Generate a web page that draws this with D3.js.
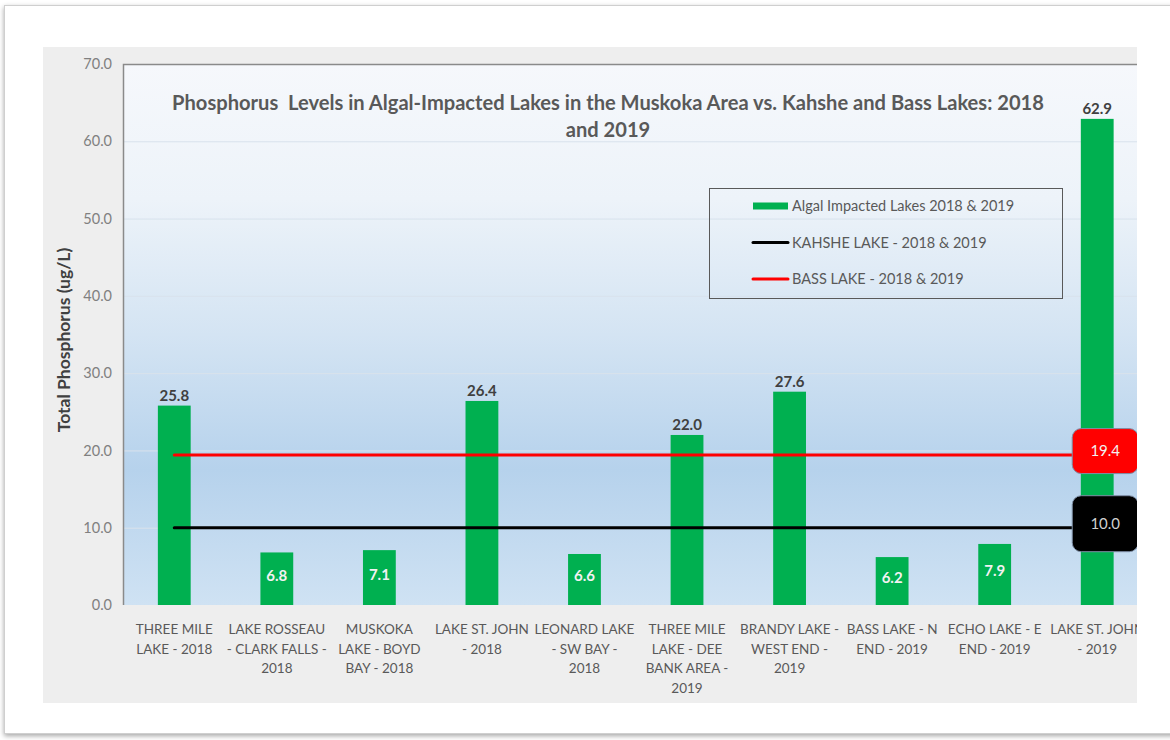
<!DOCTYPE html>
<html>
<head>
<meta charset="utf-8">
<script src="https://cdn.jsdelivr.net/npm/d3@7"></script>
<style>
  body { margin: 0; background: #ffffff; }
  svg { display: block; }
  text { font-family: Lato, "Open Sans", sans-serif; }
</style>
</head>
<body>
<div id="viz"></div>
<script>
// lakes and values
let lakes = ['THREE MILE LAKE - 2018', 'LAKE ROSSEAU - CLARK FALLS - 2018', 'MUSKOKA LAKE - BOYD BAY - 2018',
             'LAKE ST. JOHN - 2018', 'LEONARD LAKE - SW BAY - 2018', 'THREE MILE LAKE - DEE BANK AREA - 2019',
             'BRANDY LAKE - WEST END - 2019', 'BASS LAKE - N END - 2019', 'ECHO LAKE - E END - 2019',
             'LAKE ST. JOHN - 2019'];
let lakeLabels = [['THREE MILE', 'LAKE - 2018'], ['LAKE ROSSEAU', '- CLARK FALLS -', '2018'],
                  ['MUSKOKA', 'LAKE - BOYD', 'BAY - 2018'], ['LAKE ST. JOHN', '- 2018'],
                  ['LEONARD LAKE', '- SW BAY -', '2018'], ['THREE MILE', 'LAKE - DEE', 'BANK AREA -', '2019'],
                  ['BRANDY LAKE -', 'WEST END -', '2019'], ['BASS LAKE - N', 'END - 2019'],
                  ['ECHO LAKE - E', 'END - 2019'], ['LAKE ST. JOHN', '- 2019']];
let algal = [25.8, 6.8, 7.1, 26.4, 6.6, 22.0, 27.6, 6.2, 7.9, 62.9];
let kahshe = [10.0, 10.0, 10.0, 10.0, 10.0, 10.0, 10.0, 10.0, 10.0, 10.0];
let bass = [19.4, 19.4, 19.4, 19.4, 19.4, 19.4, 19.4, 19.4, 19.4, 19.4];
let yTicks = [0, 10, 20, 30, 40, 50, 60, 70];
let titleLines = ['Phosphorus  Levels in Algal-Impacted Lakes in the Muskoka Area vs. Kahshe and Bass Lakes: 2018', 'and 2019'];
let legendItems = ['Algal Impacted Lakes 2018 & 2019', 'KAHSHE LAKE - 2018 & 2019', 'BASS LAKE - 2018 & 2019'];

let W = 1170, H = 740,
    panel = { left: 43, top: 47, right: 1137, bottom: 703 },
    plot = { left: 123, top: 64, right: 1148.5, bottom: 605 };

let svg = d3.select('#viz').append('svg')
  .attr('width', W)
  .attr('height', H);

let defs = svg.append('defs');

let shadow = defs.append('filter').attr('id', 'shadow')
  .attr('x', '-5%').attr('y', '-5%').attr('width', '110%').attr('height', '110%');
shadow.append('feDropShadow')
  .attr('dx', 0).attr('dy', 2).attr('stdDeviation', 2.5)
  .attr('flood-color', '#000').attr('flood-opacity', 0.35);

let grad = defs.append('linearGradient').attr('id', 'bg')
  .attr('x1', 0).attr('y1', 0).attr('x2', 0).attr('y2', 1);
grad.append('stop').attr('offset', '0%').attr('stop-color', '#f6f8fc');
grad.append('stop').attr('offset', '25%').attr('stop-color', '#edf3f9');
grad.append('stop').attr('offset', '50%').attr('stop-color', '#d4e4f3');
grad.append('stop').attr('offset', '75%').attr('stop-color', '#b6d2ec');
grad.append('stop').attr('offset', '100%').attr('stop-color', '#cfe2f3');

defs.append('clipPath').attr('id', 'cut')
  .append('rect')
  .attr('x', 0).attr('y', 0)
  .attr('width', panel.right).attr('height', H);

// white card with a soft shadow
svg.append('rect')
  .attr('x', 4.5).attr('y', 5.5)
  .attr('width', W + 20).attr('height', 728)
  .attr('fill', '#fff')
  .attr('stroke', '#cfcfcf')
  .attr('filter', 'url(#shadow)');

let chart = svg.append('g').attr('clip-path', 'url(#cut)');

chart.append('rect')
  .attr('x', panel.left).attr('y', panel.top)
  .attr('width', panel.right - panel.left).attr('height', panel.bottom - panel.top)
  .attr('fill', '#eeeeee');

let xScale = d3.scaleBand()
  .domain(lakes)
  .range([plot.left, plot.right])
  .paddingInner(0.68)
  .paddingOuter(0.34);

let yScale = d3.scaleLinear()
  .domain([0, 70])
  .range([plot.bottom, plot.top]);

let mid = function(d) { return xScale(d) + xScale.bandwidth() / 2; };

chart.append('rect')
  .attr('x', plot.left).attr('y', plot.top)
  .attr('width', plot.right - plot.left).attr('height', plot.bottom - plot.top)
  .attr('fill', 'url(#bg)');

// gridlines
chart.append('g')
  .selectAll('line').data(yTicks.slice(1))
  .enter().append('line')
  .attr('x1', plot.left).attr('x2', plot.right)
  .attr('y1', function(d) { return yScale(d) + 0.5; })
  .attr('y2', function(d) { return yScale(d) + 0.5; })
  .attr('stroke', '#d9e2ec')
  .attr('stroke-width', 1);

// plot border, left and top
chart.append('path')
  .attr('d', 'M' + (plot.left + 0.5) + ',' + plot.bottom + 'V' + (plot.top + 0.5) + 'H' + plot.right)
  .attr('fill', 'none')
  .attr('stroke', '#8a8a8a')
  .attr('stroke-width', 1.5);

// y axis
let yAxis = d3.axisLeft(yScale)
  .tickValues(yTicks)
  .tickFormat(d3.format('.1f'))
  .tickSize(0)
  .tickPadding(11);

let yGuide = chart.append('g')
  .attr('transform', 'translate(' + plot.left + ',0)')
  .call(yAxis);
yGuide.select('.domain').remove();
yGuide.selectAll('text')
  .attr('fill', '#808080')
  .style('font-size', '14.5px');

chart.append('text')
  .attr('transform', 'translate(70,340) rotate(-90)')
  .attr('text-anchor', 'middle')
  .attr('fill', '#404040')
  .style('font-size', '17.5px')
  .style('font-weight', 'bold')
  .text('Total Phosphorus (ug/L)');

// bars
chart.append('g')
  .selectAll('rect').data(algal)
  .enter().append('rect')
  .attr('x', function(d, i) { return xScale(lakes[i]); })
  .attr('y', function(d) { return yScale(d); })
  .attr('width', xScale.bandwidth())
  .attr('height', function(d) { return plot.bottom - yScale(d); })
  .attr('fill', '#00b050');

// bar value labels: outside for tall bars, inside for short ones
chart.append('g')
  .selectAll('text').data(algal)
  .enter().append('text')
  .attr('x', function(d, i) { return mid(lakes[i]); })
  .attr('y', function(d) {
    return d > 15 ? yScale(d) - 5 : (yScale(d) + plot.bottom) / 2 + 2;
  })
  .attr('text-anchor', 'middle')
  .attr('fill', function(d) { return d > 15 ? '#404040' : '#f2f2f2'; })
  .style('font-size', '15px')
  .style('font-weight', 'bold')
  .text(function(d) { return d.toFixed(1); });

// reference lines
let line = d3.line()
  .x(function(d, i) { return mid(lakes[i]); })
  .y(function(d) { return yScale(d); });

chart.append('path').datum(bass)
  .attr('d', line)
  .attr('fill', 'none')
  .attr('stroke', '#ff0000')
  .attr('stroke-width', 3)
  .attr('stroke-linecap', 'round');

chart.append('path').datum(kahshe)
  .attr('d', line)
  .attr('fill', 'none')
  .attr('stroke', '#000000')
  .attr('stroke-width', 3)
  .attr('stroke-linecap', 'round');

// callout labels on the last point
let last = lakes.length - 1;
[{ v: bass[last], fill: '#ff0000', txt: '#f2f2f2', h: 45 },
 { v: kahshe[last], fill: '#000000', txt: '#d0d0d0', h: 56 }].forEach(function(c) {
  let cx = mid(lakes[last]) + 8, cy = yScale(c.v) - 4;
  chart.append('rect')
    .attr('x', cx - 33).attr('y', cy - c.h / 2)
    .attr('width', 66).attr('height', c.h)
    .attr('rx', 9)
    .attr('fill', c.fill)
    .attr('stroke', '#7f8fa6')
    .attr('stroke-width', 1);
  chart.append('text')
    .attr('x', cx).attr('y', cy + 5)
    .attr('text-anchor', 'middle')
    .attr('fill', c.txt)
    .style('font-size', '15px')
    .text(c.v.toFixed(1));
});

// category labels
chart.append('g')
  .selectAll('text').data(lakeLabels)
  .enter().append('text')
  .attr('text-anchor', 'middle')
  .attr('fill', '#595959')
  .style('font-size', '13.5px')
  .each(function(lines, i) {
    d3.select(this).selectAll('tspan').data(lines)
      .enter().append('tspan')
      .attr('x', mid(lakes[i]))
      .attr('y', function(d, j) { return 634 + j * 19.5; })
      .text(function(d) { return d; });
  });

// title, sized so the first line spans the same width as the original
let title = chart.append('text')
  .attr('text-anchor', 'middle')
  .attr('fill', '#595959')
  .style('font-size', '17px')
  .style('font-weight', 'bold');
title.selectAll('tspan').data(titleLines)
  .enter().append('tspan')
  .attr('x', 608)
  .attr('y', function(d, i) { return 110 + i * 27; })
  .style('white-space', 'pre')
  .text(function(d) { return d; });
let firstLen = title.select('tspan').node().getComputedTextLength();
title.style('font-size', Math.min(21, 17 * 872 / firstLen) + 'px');

// legend
let legend = chart.append('g');
legend.append('rect')
  .attr('x', 709.5).attr('y', 188.5)
  .attr('width', 353).attr('height', 110)
  .attr('fill', 'none')
  .attr('stroke', '#595959')
  .attr('stroke-width', 1);

let swatches = [
  { type: 'rect', color: '#00b050' },
  { type: 'line', color: '#000000' },
  { type: 'line', color: '#ff0000' }
];
legendItems.forEach(function(label, i) {
  let ly = 206 + i * 36.5;
  if (swatches[i].type === 'rect') {
    legend.append('rect')
      .attr('x', 753).attr('y', ly - 3.5)
      .attr('width', 35).attr('height', 7)
      .attr('fill', swatches[i].color);
  } else {
    legend.append('line')
      .attr('x1', 753).attr('x2', 788)
      .attr('y1', ly).attr('y2', ly)
      .attr('stroke', swatches[i].color)
      .attr('stroke-width', 3)
      .attr('stroke-linecap', 'round');
  }
  legend.append('text')
    .attr('x', 792).attr('y', ly + 5)
    .attr('fill', '#595959')
    .style('font-size', '14.5px')
    .text(label);
});
</script>
</body>
</html>
